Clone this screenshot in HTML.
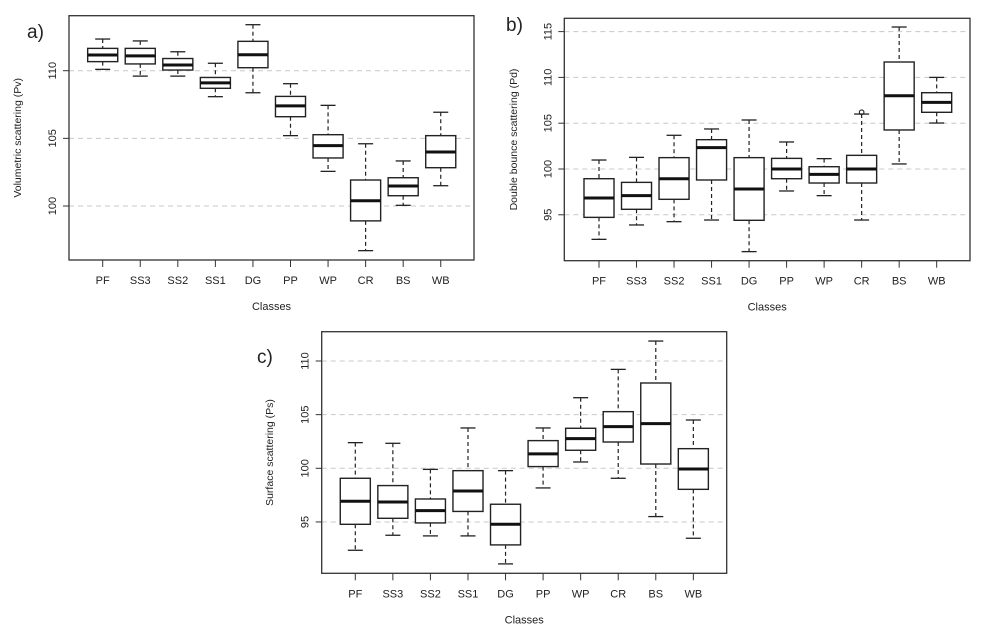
<!DOCTYPE html>
<html><head><meta charset="utf-8"><style>
body{margin:0;background:#fff}
svg{display:block}
text{font-family:"Liberation Sans",Arial,sans-serif;fill:#222}
</style></head><body>
<svg id="chart" width="990" height="634" viewBox="0 0 990 634" xmlns="http://www.w3.org/2000/svg"></svg>
<script>
const categories=["PF","SS3","SS2","SS1","DG","PP","WP","CR","BS","WB"];
// [lowWhisker, Q1, median, Q3, highWhisker]
const volumetricValues=[[110.1,110.67,111.16,111.65,112.34],[109.6,110.5,111.1,111.65,112.2],[109.6,110.05,110.42,110.9,111.4],[108.08,108.7,109.1,109.5,110.55],[108.37,110.22,111.18,112.17,113.4],[105.2,106.6,107.4,108.1,109.04],[102.56,103.55,104.46,105.27,107.44],[96.7,98.9,100.39,101.92,104.6],[100.05,100.76,101.48,102.09,103.33],[101.5,102.83,103.99,105.2,106.93]];
const doubleBounceValues=[[92.32,94.72,96.83,98.94,100.98],[93.89,95.6,97.09,98.54,101.27],[94.25,96.69,98.94,101.24,103.68],[94.43,98.8,102.33,103.2,104.37],[90.98,94.4,97.82,101.24,105.35],[97.6,98.94,100,101.16,102.95],[97.09,98.47,99.42,100.25,101.13],[94.43,98.47,100,101.49,106.0],[100.55,104.26,108.0,111.68,115.5],[105.02,106.19,107.28,108.33,110.0]];
const doubleBounceOutliers=[[7,106.2]];
const surfaceValues=[[92.36,94.78,96.93,99.07,102.39],[93.76,95.34,96.86,98.39,102.33],[93.7,94.91,96.06,97.14,99.9],[93.7,95.98,97.89,99.78,103.76],[91.09,92.86,94.78,96.65,99.78],[98.17,100.16,101.34,102.58,103.76],[100.59,101.68,102.76,103.73,106.58],[99.07,102.45,103.88,105.28,109.22],[95.5,100.4,104.16,107.95,111.86],[93.48,98.04,99.94,101.83,104.5]];
const volumetricTicks=[100,105,110];
const doubleBounceTicks=[95,100,105,110,115];
const surfaceTicks=[95,100,105,110];

const svg=document.getElementById('chart');
const NS="http://www.w3.org/2000/svg";
function mk(tag,attrs,parent){const e=document.createElementNS(NS,tag);for(const k in attrs)e.setAttribute(k,attrs[k]);(parent||svg).appendChild(e);return e;}

function panel(cfg){
  const g=mk('g',{});
  
  
  const yScale=v=>cfg.y0-(v-cfg.v0)*cfg.ppu;
  const xScale=i=>cfg.x0+i*cfg.dx;
  // grid
  cfg.ticks.forEach(t=>{
    const y=yScale(t);
    const l=mk('line',{x1:cfg.left,x2:cfg.right,y1:y,y2:y,stroke:'#c8c8c8','stroke-dasharray':'5,4','stroke-width':1},g);
    
    
    const tk=mk('line',{x1:cfg.left-6,x2:cfg.left,y1:y,y2:y,stroke:'#333','stroke-width':1},g);
    
    
    const tx=mk('text',{x:cfg.left-13,y:y,'font-size':11,'text-anchor':'middle',transform:`rotate(-90 ${cfg.left-13} ${y})`},g);
    tx.textContent=t;
    
    
  });
  // boxes
  const bw=cfg.dx*0.8;
  cfg.values.forEach((d,i)=>{
    const x=xScale(i);
    const bg=mk('g',{},g);
    
    
    const [lo,q1,md,q3,hi]=d.map(yScale);
    mk('line',{x1:x,x2:x,y1:hi,y2:q3,stroke:'#222','stroke-dasharray':'4,3','stroke-width':1.2},bg);
    mk('line',{x1:x,x2:x,y1:q1,y2:lo,stroke:'#222','stroke-dasharray':'4,3','stroke-width':1.2},bg);
    mk('line',{x1:x-bw/4,x2:x+bw/4,y1:hi,y2:hi,stroke:'#222','stroke-width':1.3},bg);
    mk('line',{x1:x-bw/4,x2:x+bw/4,y1:lo,y2:lo,stroke:'#222','stroke-width':1.3},bg);
    mk('rect',{x:x-bw/2,y:q3,width:bw,height:q1-q3,fill:'#fff',stroke:'#222','stroke-width':1.4},bg);
    mk('line',{x1:x-bw/2,x2:x+bw/2,y1:md,y2:md,stroke:'#111','stroke-width':3},bg);
    const tk=mk('line',{x1:x,x2:x,y1:cfg.bottom,y2:cfg.bottom+7,stroke:'#333','stroke-width':1},g);
    
    
    const tx=mk('text',{x:x,y:cfg.bottom+24,'font-size':11,'text-anchor':'middle'},g);
    tx.textContent=categories[i];
    
    
  });
  (cfg.outliers||[]).forEach(o=>{
    const c=mk('circle',{cx:xScale(o[0]),cy:yScale(o[1]),r:2.3,fill:'none',stroke:'#222','stroke-width':1.1},g);
    
    
  });
  const fr=mk('rect',{x:cfg.left,y:cfg.top,width:cfg.right-cfg.left,height:cfg.bottom-cfg.top,fill:'none',stroke:'#333','stroke-width':1.3},g);
  
  
  const xt=mk('text',{x:(cfg.left+cfg.right)/2,y:cfg.bottom+50,'font-size':11,'text-anchor':'middle'},g);
  xt.textContent='Classes';
  
  
  const yc=(cfg.top+cfg.bottom)/2;
  const yt=mk('text',{x:cfg.ylx,y:yc,'font-size':10.5,'text-anchor':'middle',transform:`rotate(-90 ${cfg.ylx} ${yc})`},g);
  yt.textContent=cfg.ylabel;
  
  
  const pl=mk('text',{x:cfg.plx,y:cfg.ply,'font-size':19},g);
  pl.textContent=cfg.label;
  
  
}
panel({name:'panel-a-volumetric',values:volumetricValues,ticks:volumetricTicks,left:69,right:474,top:15.7,bottom:260,v0:100,y0:206,ppu:13.53,x0:102.7,dx:37.56,ylabel:'Volumetric scattering (Pv)',ylx:21,label:'a)',plx:27,ply:38});
panel({name:'panel-b-double-bounce',values:doubleBounceValues,outliers:doubleBounceOutliers,ticks:doubleBounceTicks,left:564.3,right:970,top:18.3,bottom:260.7,v0:100,y0:169,ppu:9.16,x0:599,dx:37.52,ylabel:'Double bounce scattering (Pd)',ylx:517,label:'b)',plx:506,ply:31});
panel({name:'panel-c-surface',values:surfaceValues,ticks:surfaceTicks,left:321.7,right:726.7,top:331.7,bottom:573.3,v0:100,y0:468.3,ppu:10.73,x0:355.3,dx:37.56,ylabel:'Surface scattering (Ps)',ylx:273,label:'c)',plx:257,ply:363});
</script>
</body></html>
